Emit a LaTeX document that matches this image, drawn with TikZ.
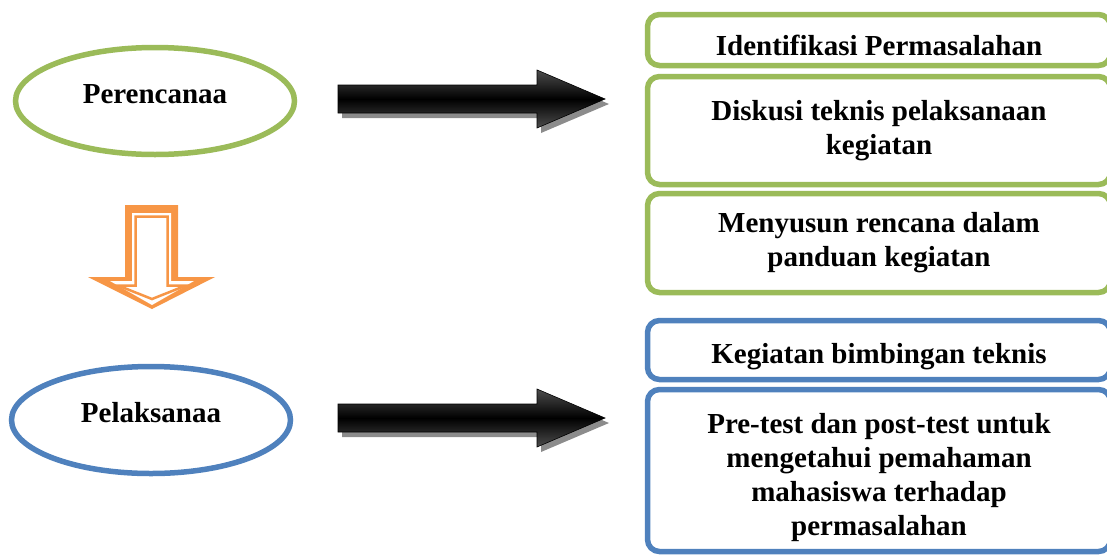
\documentclass[tikz,border=0pt]{standalone}
\usepackage{fontspec}
\setmainfont{Liberation Serif}
\usetikzlibrary{shapes.geometric,positioning}
\definecolor{plangreen}{HTML}{9BBB59}
\definecolor{doblue}{HTML}{4F81BD}
\definecolor{downorange}{HTML}{F79646}

\begin{document}
\begin{tikzpicture}[x=1pt,y=-1pt,
		stageoval/.style={ellipse,draw,line width=5.5pt,minimum width=279pt,minimum height=107pt,
		text height=19pt,text depth=14pt,font=\bfseries\fontsize{29}{34}\selectfont},
		stepbox/.style={rectangle,rounded corners=12pt,draw,line width=5.5pt,minimum width=463pt,
		align=center,inner sep=2pt,font=\bfseries\fontsize{29}{34}\selectfont},
		bigarrow/.style={draw=black,line width=0.6pt,top color=black!70,bottom color=black!70,middle color=black}
		]
		\useasboundingbox (0,0) rectangle (1107,557);
		\clip (0,0) rectangle (1107,557);

		\node[stageoval, draw=plangreen](E1) at (155,101){Perencanaa};
		\node[stageoval, draw=doblue](E2) at (151,420){Pelaksanaa};

		\node[stepbox, draw=plangreen, minimum height=51pt, text height=30pt, text depth=0pt](S1) at (879,40){Identifikasi Permasalahan};
		\node[stepbox, draw=plangreen, minimum height=108pt, below = 5.5pt of S1](S2){Diskusi teknis pelaksanaan\\kegiatan};
		\node[stepbox, draw=plangreen, minimum height=99pt, below = 3.5pt of S2](S3){Menyusun rencana dalam\\panduan kegiatan};
		\node[stepbox, draw=doblue, minimum height=59pt, text height=26pt, text depth=0pt](S4) at (879,350){Kegiatan bimbingan teknis};
		\node[stepbox, draw=doblue, minimum height=162pt, below = 4.5pt of S4](S5){\rule{0pt}{34pt}Pre-test dan post-test untuk\\mengetahui pemahaman\\mahasiswa terhadap\\permasalahan};

		\foreach \c in {99,418}{
			\fill[black!45] (342,\c-9) -- (541,\c-9) -- (541,\c-24) -- (609,\c+5) -- (541,\c+34) -- (541,\c+19) -- (342,\c+19) -- cycle;
			\path[bigarrow] (338,\c-14) -- (537,\c-14) -- (537,\c-29) -- (605,\c) -- (537,\c+29) -- (537,\c+14) -- (338,\c+14) -- cycle;
		}

		\fill[downorange] (125,205) -- (178,205) -- (178,277) -- (215,277) -- (152,309) -- (88,277) -- (125,277) -- cycle;
		\fill[white] (132,213) -- (171,213) -- (171,281) -- (194,281) -- (152,305) -- (110,281) -- (132,281) -- cycle;
		\draw[downorange, line width=2.5pt] (135.5,216.5) -- (167.5,216.5) -- (167.5,285.5) -- (186,285.5) -- (152,299) -- (118,285.5) -- (135.5,285.5) -- cycle;
	\end{tikzpicture}
\end{document}
